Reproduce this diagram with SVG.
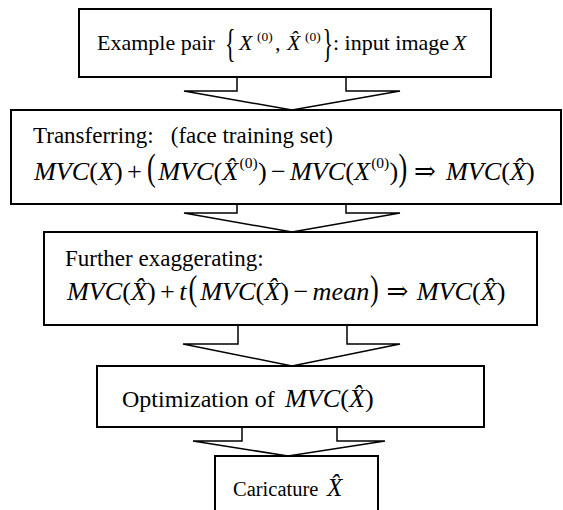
<svg xmlns="http://www.w3.org/2000/svg" width="563" height="510" viewBox="0 0 563 510">
  <style>
    .box { fill: none; stroke: #000; stroke-width: 2; }
    .arrow { fill: none; stroke: #000; stroke-width: 1.5; stroke-linejoin: miter; }
    .t { font-family: "Liberation Serif", "Times New Roman", "DejaVu Serif", serif; fill: #000; }
    .i { font-style: italic; }
  </style>
  <rect x="0" y="0" width="563" height="510" fill="#fff"/>

  <!-- block arrows between steps -->
  <g id="connectors">
    <polyline class="arrow" points="237,77 237,91 184,91 292,110 400,91 346,91 346,77"/>
    <polyline class="arrow" points="237,204 237,213 184,213 292,232 400,213 346,213 346,204"/>
    <polyline class="arrow" points="238,325 238,344 183,344 292,366 400,344 347,344 347,325"/>
    <polyline class="arrow" points="242,427 242,441 193,441 288,456 385,441 337,441 337,427"/>
  </g>

  <!-- step 1: example pair and input -->
  <g id="step-input">
    <rect class="box" x="79" y="9" width="412" height="68"/>
    <g class="t" font-size="22">
      <text x="97" y="50">Example pair</text>
      <text transform="translate(225,57) scale(1,1.8)" font-size="22">{</text>
      <text class="i" x="239" y="50">X</text>
      <text x="257" y="41" font-size="13.5">(0)</text>
      <text x="275" y="50">,</text>
      <text class="i" x="287" y="50">X̂</text>
      <text x="305" y="41" font-size="13.5">(0)</text>
      <text transform="translate(322.5,57) scale(1,1.8)" font-size="22">}</text>
      <text x="333" y="50">: input image</text>
      <text class="i" x="453" y="50">X</text>
    </g>
  </g>

  <!-- step 2: transferring -->
  <g id="step-transfer">
    <rect class="box" x="11" y="110" width="550" height="94"/>
    <text class="t" x="33" y="143" font-size="23" xml:space="preserve">Transferring:   (face training set)</text>
    <g class="t" font-size="26.2">
      <text class="i" x="34" y="180">MVC</text>
      <text x="89.3" y="180">(</text>
      <text class="i" x="98" y="180">X</text>
      <text x="114" y="180">)</text>
      <text x="127.1" y="180">+</text>
      <text transform="translate(147,180) scale(1,1.45)">(</text>
      <text class="i" x="158.3" y="180">MVC</text>
      <text x="213.6" y="180">(</text>
      <text class="i" x="222.3" y="180">X̂</text>
      <text x="239.5" y="168" font-size="15.5">(0)</text>
      <text x="258" y="180">)</text>
      <text x="271" y="180">−</text>
      <text class="i" x="290" y="180">MVC</text>
      <text x="345.3" y="180">(</text>
      <text class="i" x="354" y="180">X</text>
      <text x="371.2" y="168" font-size="15.5">(0)</text>
      <text x="389.5" y="180">)</text>
      <text transform="translate(398.5,180) scale(1,1.45)">)</text>
      <text x="414" y="180">⇒</text>
      <text class="i" x="446" y="180">MVC</text>
      <text x="501.3" y="180">(</text>
      <text class="i" x="510" y="180">X̂</text>
      <text x="526" y="180">)</text>
    </g>
  </g>

  <!-- step 3: further exaggerating -->
  <g id="step-exaggerate">
    <rect class="box" x="44" y="232" width="493" height="93"/>
    <text class="t" x="65" y="266" font-size="23">Further exaggerating:</text>
    <g class="t" font-size="26.2">
      <text class="i" x="67" y="300">MVC</text>
      <text x="122.3" y="300">(</text>
      <text class="i" x="131" y="300">X̂</text>
      <text x="147" y="300">)</text>
      <text x="160.1" y="300">+</text>
      <text class="i" x="179.3" y="300">t</text>
      <text transform="translate(188.5,300) scale(1,1.38)">(</text>
      <text class="i" x="200.3" y="300">MVC</text>
      <text x="255.6" y="300">(</text>
      <text class="i" x="264.3" y="300">X̂</text>
      <text x="280.3" y="300">)</text>
      <text x="293.4" y="300">−</text>
      <text class="i" x="312.6" y="300">mean</text>
      <text transform="translate(370,300) scale(1,1.38)">)</text>
      <text x="386.4" y="300">⇒</text>
      <text class="i" x="416.8" y="300">MVC</text>
      <text x="472.1" y="300">(</text>
      <text class="i" x="480.8" y="300">X̂</text>
      <text x="496.8" y="300">)</text>
    </g>
  </g>

  <!-- step 4: optimization -->
  <g id="step-optimize">
    <rect class="box" x="97" y="366" width="387" height="61"/>
    <text class="t" x="122" y="407" font-size="24">Optimization of</text>
    <g class="t" font-size="26.2">
      <text class="i" x="285" y="407">MVC</text>
      <text x="340.3" y="407">(</text>
      <text class="i" x="349" y="407">X̂</text>
      <text x="365" y="407">)</text>
    </g>
  </g>

  <!-- step 5: caricature output -->
  <g id="step-caricature">
    <rect class="box" x="215" y="456" width="163" height="60"/>
    <text class="t" x="233" y="496" font-size="20.5">Caricature</text>
    <text class="t i" x="327" y="496" font-size="25">X̂</text>
  </g>
</svg>
